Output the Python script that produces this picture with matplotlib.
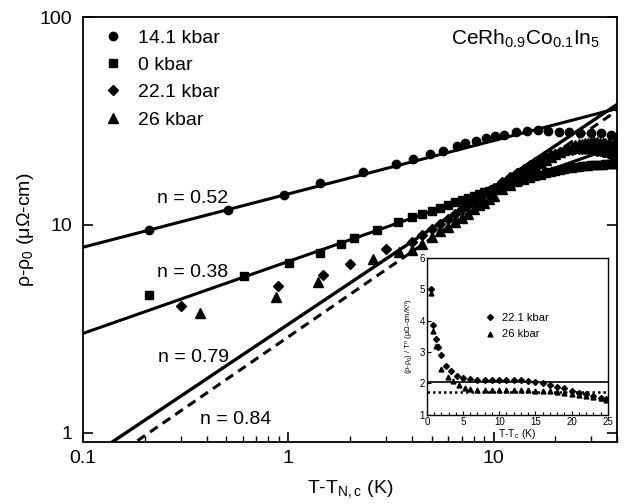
import matplotlib
matplotlib.use("Agg")
import matplotlib.pyplot as plt
from matplotlib.ticker import FixedLocator, LogLocator, NullFormatter, MultipleLocator

plt.rcParams['font.family'] = ['Liberation Sans', 'DejaVu Sans']
plt.rcParams['mathtext.fontset'] = 'custom'
plt.rcParams['mathtext.rm'] = 'Liberation Sans'
plt.rcParams['mathtext.default'] = 'regular'

# ---- main panel data (T - T_N,c in K, rho - rho0 in uOhm-cm) ----
x_141 = [0.21, 0.51, 0.95, 1.43, 2.3, 3.33, 4.03, 4.93, 5.7, 6.67, 7.3, 8.17, 9.14,
         10.2, 11.2, 12.8, 14.6, 16.4, 18.5, 20.8, 23.2, 26.5, 29.7, 33.3, 37.2, 39.4]
y_141 = [9.4, 11.8, 13.95, 15.9, 17.97, 19.65, 20.7, 21.9, 22.6, 23.9, 24.7, 25.3, 26.2,
         26.8, 27.1, 28.0, 28.3, 28.6, 28.3, 28.0, 28.0, 27.7, 27.7, 27.7, 27.1, 26.5]

x_0 = [0.21, 0.61, 1.01, 1.42, 1.81, 2.1, 2.72, 3.44, 4, 4.5, 5, 5.5, 6, 6.5, 7, 7.5,
       8, 8.5, 9, 9.5, 10, 11, 12, 13, 14, 15, 16, 17, 18, 19, 20, 21, 22, 23, 24, 25,
       26, 27, 28, 29, 30, 31, 32, 33, 34, 35, 36, 37, 38, 39, 40]
y_0 = [4.6, 5.65, 6.55, 7.3, 8.1, 8.6, 9.4, 10.35, 10.9, 11.3, 11.7, 12.1, 12.5, 12.9,
       13.2, 13.5, 13.8, 14.1, 14.4, 14.6, 14.9, 15.3, 15.7, 16.1, 16.5, 16.8, 17.1,
       17.4, 17.7, 17.9, 18.1, 18.3, 18.5, 18.7, 18.8, 18.9, 19.0, 19.1, 19.2, 19.3,
       19.4, 19.4, 19.5, 19.5, 19.5, 19.6, 19.6, 19.6, 19.6, 19.6, 19.6]

x_221 = [0.30, 0.89, 1.47, 1.99, 3.0, 4, 4.5, 5, 5.5, 6, 6.5, 7, 7.5, 8, 8.5, 9, 9.5,
         10, 11, 12, 13, 14, 15, 16, 17, 18, 19, 20, 21, 22, 23, 24, 25, 26, 27, 28,
         29, 30, 31, 32, 33, 34, 35, 36, 37, 38, 39, 40]
y_221 = [4.05, 5.1, 5.75, 6.45, 7.65, 8.3, 8.9, 9.5, 10.1, 10.7, 11.3, 11.9, 12.4, 12.9,
         13.4, 14.0, 14.5, 15.0, 16.0, 16.9, 17.8, 18.6, 19.4, 20.0, 20.6, 21.1, 21.6,
         22.0, 22.3, 22.6, 22.8, 23.0, 23.1, 23.2, 23.2, 23.2, 23.1, 23.0, 22.9, 22.7,
         22.6, 22.4, 22.3, 22.1, 22.0, 21.8, 21.7, 21.6]

x_26 = [0.37, 0.87, 1.40, 2.6, 3.47, 4, 4.5, 5, 5.5, 6, 6.5, 7, 7.5, 8, 8.5, 9, 9.5,
        10, 11, 12, 13, 14, 15, 16, 17, 18, 19, 20, 21, 22, 23, 24, 25, 26, 27, 28,
        29, 30, 31, 32, 33, 34, 35, 36, 37, 38, 39, 40]
y_26 = [3.76, 4.5, 5.3, 6.85, 7.4, 7.6, 8.1, 8.7, 9.3, 9.8, 10.3, 10.8, 11.3, 11.9,
        12.4, 12.8, 13.3, 13.8, 14.8, 15.6, 16.5, 17.4, 18.2, 19.1, 19.9, 20.6, 21.3,
        21.9, 22.5, 23.0, 23.4, 23.8, 24.1, 24.4, 24.6, 24.8, 24.9, 25.0, 25.0, 25.0,
        24.9, 24.8, 24.7, 24.6, 24.4, 24.3, 24.1, 24.0]

# power-law fit lines, given by their end points
fit_141_x, fit_141_y = [0.1, 40], [7.8, 36.3]
fit_0_x, fit_0_y = [0.1, 40], [3.0, 23.9]
fit_079_x, fit_079_y = [0.125, 40], [0.84, 38.0]
fit_084_x, fit_084_y = [0.16, 40], [0.83, 35.5]

# ---- inset data: (rho - rho0) / T^n vs T - Tc ----
ix_221 = [0.6, 0.9, 1.2, 1.5, 1.9, 2.7, 3.4, 4.2, 5.0, 6, 7, 8, 9, 10, 11, 12, 13, 14,
          15, 16, 17, 18, 19, 20, 21, 22, 23, 24, 24.8]
iy_221 = [5.0, 3.88, 3.43, 3.15, 2.92, 2.56, 2.41, 2.25, 2.16, 2.13, 2.12, 2.11, 2.11,
          2.11, 2.11, 2.1, 2.1, 2.08, 2.05, 2.0, 1.95, 1.9, 1.84, 1.76, 1.7, 1.65, 1.6,
          1.55, 1.5]
ix_26 = [0.6, 0.9, 1.2, 1.5, 2.0, 2.9, 3.6, 4.4, 5.3, 6, 7, 8, 9, 10, 11, 12, 13, 14,
         15, 16, 17, 18, 19, 20, 21, 22, 23, 24, 24.8]
iy_26 = [4.87, 3.67, 3.2, 3.2, 2.46, 2.22, 2.07, 1.95, 1.86, 1.81, 1.8, 1.79, 1.79,
         1.79, 1.79, 1.79, 1.78, 1.78, 1.77, 1.77, 1.75, 1.72, 1.69, 1.66, 1.63, 1.6,
         1.56, 1.52, 1.48]
inset_solid_level = 2.06
inset_dotted_level = 1.74

fig = plt.figure(figsize=(6.24, 5.04), dpi=100)
ax = fig.add_axes([0.133, 0.123, 0.856, 0.843])

ax.plot(fit_141_x, fit_141_y, '-', color='black', lw=2.2)
ax.plot(fit_0_x, fit_0_y, '-', color='black', lw=2.2)
ax.plot(fit_079_x, fit_079_y, '-', color='black', lw=2.4)
ax.plot(fit_084_x, fit_084_y, '--', color='black', lw=2.2, dashes=(3, 2))

ax.plot(x_141, y_141, 'o', color='black', ms=6, ls='none', label='14.1 kbar')
ax.plot(x_0, y_0, 's', color='black', ms=5.5, ls='none', label='0 kbar')
ax.plot(x_221, y_221, 'D', color='black', ms=5.5, ls='none', label='22.1 kbar')
ax.plot(x_26, y_26, '^', color='black', ms=6.5, ls='none', label='26 kbar')

ax.set_xscale('log')
ax.set_yscale('log')
ax.set_xlim(0.1, 40)
ax.set_ylim(0.9, 100)

ax.yaxis.set_major_locator(FixedLocator([1, 10, 100]))
ax.set_yticklabels(['1', '10', '100'])
ax.yaxis.set_minor_locator(FixedLocator([]))
ax.xaxis.set_major_locator(FixedLocator([0.1, 1, 10]))
ax.set_xticklabels(['0.1', '1', '10'])
ax.xaxis.set_minor_locator(LogLocator(base=10, subs=range(2, 10)))
ax.xaxis.set_minor_formatter(NullFormatter())
ax.tick_params(axis='both', which='major', direction='in', labelsize=14, length=7,
               width=1.2)
ax.tick_params(axis='x', which='major', pad=6)
ax.tick_params(axis='y', which='major', pad=8, right=True)
ax.tick_params(axis='x', which='minor', direction='in', length=4, width=1.0)
for sp in ax.spines.values():
    sp.set_linewidth(1.3)

ax.set_xlabel(r'T-T$_{N,c}$ (K)', fontsize=14, labelpad=8)
ax.set_ylabel(r'ρ-ρ$_0$ (μΩ-cm)', fontsize=14, labelpad=2)

ax.legend(loc='upper left', bbox_to_anchor=(0.02, 0.995), frameon=False, fontsize=14,
          handlelength=1.0, handletextpad=0.8, labelspacing=0.5, borderpad=0.2,
          borderaxespad=0.3, numpoints=1)

ax.text(0.968, 0.975, r'CeRh$_{0.9}$Co$_{0.1}$In$_5$', transform=ax.transAxes,
        ha='right', va='top', fontsize=15)
ax.text(0.139, 0.574, 'n = 0.52', transform=ax.transAxes, va='center', fontsize=14)
ax.text(0.139, 0.400, 'n = 0.38', transform=ax.transAxes, va='center', fontsize=14)
ax.text(0.141, 0.200, 'n = 0.79', transform=ax.transAxes, va='center', fontsize=14)
ax.text(0.219, 0.052, 'n = 0.84', transform=ax.transAxes, va='center', fontsize=14)

# ---- inset ----
ins = fig.add_axes([0.684, 0.177, 0.290, 0.311])
ins.axhline(inset_solid_level, color='black', lw=1.2)
ins.axhline(inset_dotted_level, color='black', lw=1.8, ls=(0, (1, 1.2)))
ins.plot(ix_221, iy_221, 'D', color='black', ms=3, ls='none', label='22.1 kbar')
ins.plot(ix_26, iy_26, '^', color='black', ms=3.5, ls='none', label='26 kbar')
ins.set_xlim(0, 25)
ins.set_ylim(1, 6)
ins.xaxis.set_major_locator(MultipleLocator(5))
ins.xaxis.set_minor_locator(MultipleLocator(1))
ins.yaxis.set_major_locator(MultipleLocator(1))
ins.tick_params(axis='both', which='major', direction='in', labelsize=7, length=3,
                width=0.8, pad=1.5)
ins.tick_params(axis='x', which='minor', direction='in', length=2, width=0.8)
for sp in ins.spines.values():
    sp.set_linewidth(1.0)
ins.set_xlabel(r'T-T$_c$ (K)', fontsize=7.5, labelpad=0)
ins.set_ylabel(r'(ρ-ρ$_0$) / T$^n$ (μΩ-cm/K$^n$)', fontsize=5.5, labelpad=2)
ins.legend(loc='upper left', bbox_to_anchor=(0.29, 0.69), frameon=False, fontsize=8,
           handlelength=0.8, handletextpad=0.6, labelspacing=0.55, borderpad=0.1,
           numpoints=1)

fig.savefig('out.png', dpi=100)
